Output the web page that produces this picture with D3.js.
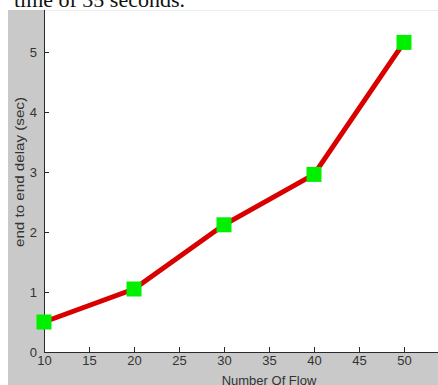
<!DOCTYPE html>
<html>
<head>
<meta charset="utf-8">
<script src="https://cdn.jsdelivr.net/npm/d3@7"></script>
<style>
  body { margin: 0; background: #fff; }
  svg { display: block; }
</style>
</head>
<body>
<div class="vis-linechart"></div>
<script>
// data
const flows = [10, 20, 30, 40, 50];
const delays = [0.5, 1.05, 2.12, 2.96, 5.16];
const xTicks = [10, 15, 20, 25, 30, 35, 40, 45, 50];
const yTicks = [0, 1, 2, 3, 4, 5];

const W = 438, H = 385;
// axes box (top and right run off the cropped picture)
let margin = { top: -8, left: 44, right: 494, bottom: 352 };

let svg = d3.select(".vis-linechart")
    .append("svg")
    .attr("width", W)
    .attr("height", H);

// bit of the document text above the figure
svg.append("text")
    .attr("x", 185)
    .attr("y", 7)
    .attr("text-anchor", "end")
    .style("font-family", "'Liberation Serif', 'Times New Roman', serif")
    .style("font-size", "22px")
    .attr("fill", "#111")
    .text("time of 35 seconds.");

// figure background
svg.append("rect")
    .attr("x", 8).attr("y", 10)
    .attr("width", W - 8).attr("height", H - 10)
    .attr("fill", "#c9c9c9");

svg.append("defs").append("clipPath")
    .attr("id", "fig")
    .append("rect")
    .attr("x", 0).attr("y", 10)
    .attr("width", W).attr("height", H - 10);

let g = svg.append("g").attr("clip-path", "url(#fig)");

let x = d3.scaleLinear()
    .domain([10, 60])
    .range([margin.left, margin.right]);
let y = d3.scaleLinear()
    .domain([0, 6])
    .range([margin.bottom, margin.top]);

// axes area
g.append("rect")
    .attr("x", margin.left).attr("y", margin.top)
    .attr("width", margin.right - margin.left)
    .attr("height", margin.bottom - margin.top)
    .attr("fill", "#fff");
g.append("line")
    .attr("x1", margin.left).attr("x2", W)
    .attr("y1", 10.5).attr("y2", 10.5)
    .attr("stroke", "#ececec");

const tickFont = (sel) => {
    sel.select(".domain").attr("stroke", "#2a2a2a");
    sel.selectAll(".tick line").attr("stroke", "#2a2a2a");
    sel.selectAll(".tick text")
        .attr("fill", "#333")
        .style("font-family", "'Liberation Sans', Arial, sans-serif")
        .style("font-size", "13px");
};

// X axis, ticks point inward
g.append("g")
    .attr("transform", "translate(0," + margin.bottom + ")")
    .call(d3.axisBottom(x).tickValues(xTicks).tickFormat(d3.format("d"))
        .tickSizeInner(-5).tickSizeOuter(0).tickPadding(4))
    .call(tickFont);

// Y axis
g.append("g")
    .attr("transform", "translate(" + margin.left + ",0)")
    .call(d3.axisLeft(y).tickValues(yTicks).tickFormat(d3.format("d"))
        .tickSizeInner(-5).tickSizeOuter(0).tickPadding(7))
    .call(tickFont);

// axis titles
g.append("text")
    .attr("x", (margin.left + margin.right) / 2)
    .attr("y", 385)
    .attr("text-anchor", "middle")
    .attr("fill", "#333")
    .style("font-family", "'Liberation Sans', Arial, sans-serif")
    .style("font-size", "13px")
    .text("Number Of Flow");

g.append("text")
    .attr("transform", "translate(24," + (margin.top + margin.bottom) / 2 + ") rotate(-90)")
    .attr("text-anchor", "middle")
    .attr("fill", "#333")
    .attr("textLength", 150)
    .attr("lengthAdjust", "spacingAndGlyphs")
    .style("font-family", "'Liberation Sans', Arial, sans-serif")
    .style("font-size", "13px")
    .text("end to end delay (sec)");

// the line
let data = flows.map((f, i) => ({ flow: f, delay: delays[i] }));
g.append("path")
    .datum(data)
    .attr("fill", "none")
    .attr("stroke", "#d90000")
    .attr("stroke-width", 5)
    .attr("d", d3.line()
        .x(function (d) { return x(d.flow) })
        .y(function (d) { return y(d.delay) })
    );

// square markers
const ms = 15;
g.selectAll(".marker")
    .data(data)
    .enter()
    .append("rect")
    .attr("class", "marker")
    .attr("x", d => x(d.flow) - ms / 2)
    .attr("y", d => y(d.delay) - ms / 2)
    .attr("width", ms)
    .attr("height", ms)
    .attr("fill", "#00f000");
</script>
</body>
</html>
